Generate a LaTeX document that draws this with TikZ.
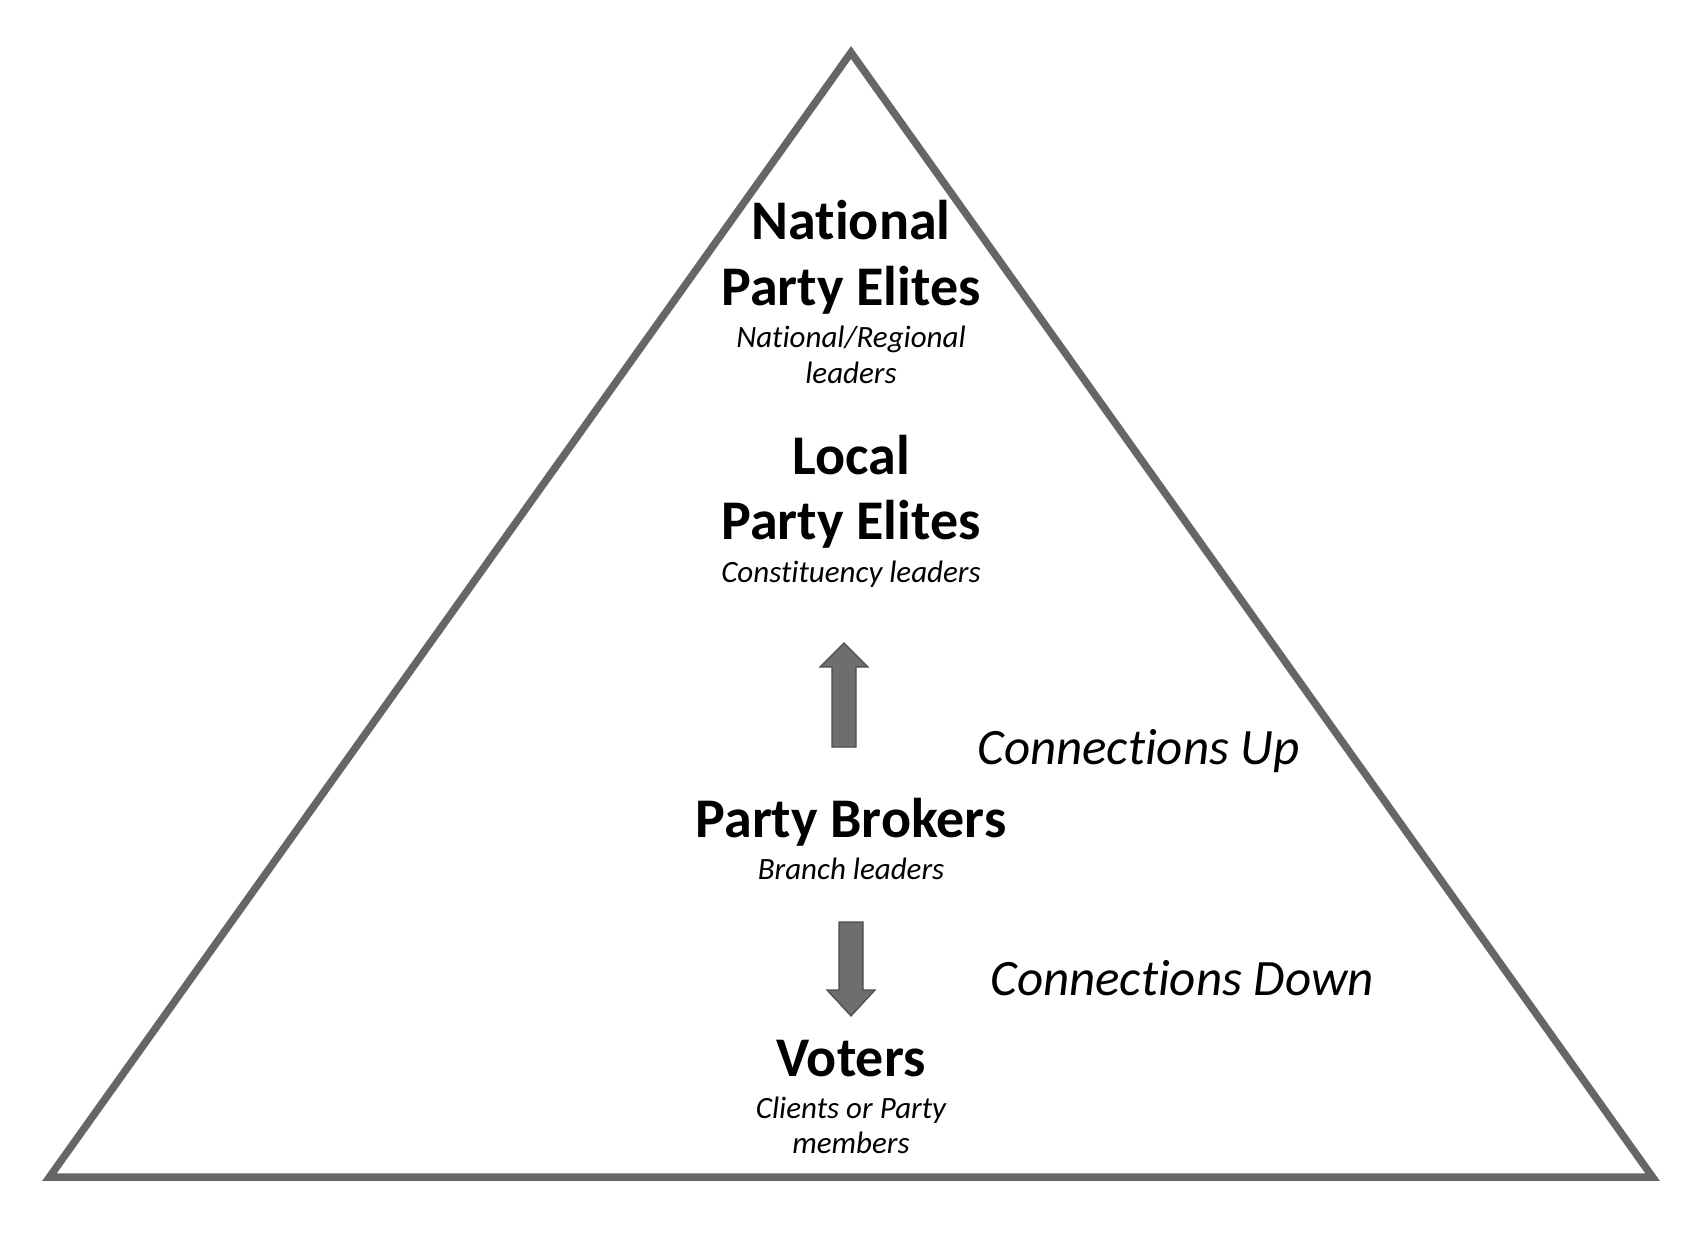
\documentclass[tikz,border=0pt]{standalone}
\usepackage{fontspec}
\setmainfont{Carlito}[RawFeature={-liga;-clig;-calt;-dlig}]
\usepackage{tikz}
\definecolor{edgegray}{rgb}{0.4,0.4,0.4}
\definecolor{arrowfill}{rgb}{0.43,0.43,0.43}
\definecolor{arrowline}{rgb}{0.3,0.3,0.3}

\begin{document}
\begin{tikzpicture}[line cap=round,line join=miter,x=0.5pt,y=-0.5pt,
    level/.style={anchor=base,inner sep=0pt,font=\fontsize{28}{28}\selectfont\bfseries},
    sublevel/.style={anchor=base,inner sep=0pt,font=\fontsize{15.5}{15.5}\selectfont\itshape},
    side/.style={anchor=base west,inner sep=0pt,font=\fontsize{25.5}{25.5}\selectfont\itshape},
    blockarrow/.style={fill=arrowfill,draw=arrowline,line width=0.6pt,line join=miter}]
    \useasboundingbox (0,0) rectangle (1688,1244);
    \draw [color=edgegray,line width=3.75pt] (851,52.5) -- (49.5,1177) -- (1652.5,1177) -- cycle;
    % levels of the pyramid
    \node[level] (natl) at (851,239) {National};
    \node[level] (natlb) at (851,305) {Party Elites};
    \node[sublevel] (natls) at (851,347) {National/Regional};
    \node[sublevel] (natlt) at (851,383) {leaders};
    \node[level] (locl) at (851,474) {Local};
    \node[level] (loclb) at (851,539) {Party Elites};
    \node[sublevel] (locls) at (851,582) {Constituency leaders};
    \node[level] (brok) at (851,837) {Party Brokers};
    \node[sublevel] (broks) at (851,879) {Branch leaders};
    \node[level] (vote) at (851,1076) {Voters};
    \node[sublevel] (votes) at (851,1118) {Clients or Party};
    \node[sublevel] (votet) at (851,1153) {members};
    % connections
    \node[side] (cup) at (977,764) {Connections Up};
    \node[side] (cdown) at (990,995) {Connections Down};
    \draw[blockarrow] (832,747) -- (832,667) -- (820,667) -- (844,643) -- (868,667) -- (856,667) -- (856,747) -- cycle;
    \draw[blockarrow] (839,922) -- (863,922) -- (863,990) -- (875,990) -- (851,1016) -- (827,990) -- (839,990) -- cycle;
\end{tikzpicture}
\end{document}
